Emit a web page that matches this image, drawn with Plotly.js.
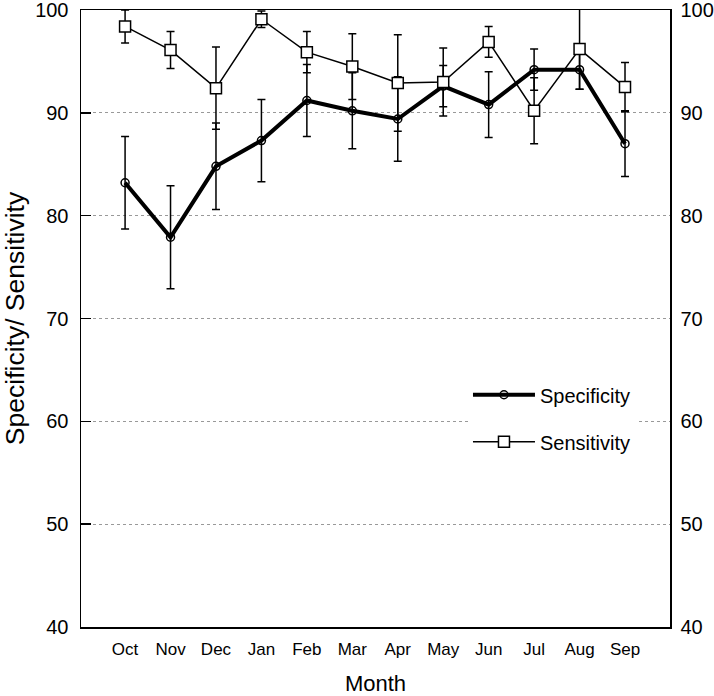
<!DOCTYPE html>
<html>
<head>
<meta charset="utf-8">
<script src="https://cdn.plot.ly/plotly-3.0.1.min.js"></script>
<style>html,body{margin:0;padding:0;background:#fff;}#chart{width:714px;height:696px;}</style>
</head>
<body>
<div id="chart"></div>
<script>
const months = ["Oct","Nov","Dec","Jan","Feb","Mar","Apr","May","Jun","Jul","Aug","Sep"];
const specificity = [83.2, 77.9, 84.8, 87.3, 91.2, 90.2, 89.4, 92.6, 90.8, 94.2, 94.2, 87.0];
const specificityErr = [4.5, 5.0, 4.2, 4.0, 3.5, 3.7, 4.1, 2.0, 3.2, 2.0, 1.9, 3.2];
const sensitivity = [98.4, 96.1, 92.4, 99.1, 95.9, 94.5, 92.9, 93.0, 96.9, 90.2, 96.2, 92.5];
const sensitivityErr = [1.6, 1.8, 4.0, 0.8, 2.0, 3.2, 4.7, 3.3, 1.5, 3.2, 3.9, 2.4];
const yTicks = [40, 50, 60, 70, 80, 90, 100];

const font = "Liberation Sans, Arial, sans-serif";

const traces = [
  {
    x: months, y: specificity, name: "Specificity", type: "scatter", mode: "lines+markers",
    legendgroup: "a",
    line: {color: "#000", width: 4},
    marker: {symbol: "circle-open", size: 8, color: "#000", line: {width: 1.5, color: "#000"}},
    error_y: {type: "data", array: specificityErr, visible: true, color: "#000", thickness: 1.5, width: 4}
  },
  {
    x: months, y: sensitivity, name: "Sensitivity", type: "scatter", mode: "lines+markers",
    legendgroup: "b",
    line: {color: "#000", width: 1.5},
    marker: {symbol: "square", size: 11, color: "#fff", line: {width: 1.5, color: "#000"}},
    error_y: {type: "data", array: sensitivityErr, visible: true, color: "#000", thickness: 1.5, width: 4}
  },
  {
    x: months, y: sensitivity, yaxis: "y2", type: "scatter", mode: "none", showlegend: false, hoverinfo: "skip"
  }
];

const layout = {
  width: 714, height: 696,
  margin: {l: 81, r: 44, t: 10, b: 69},
  paper_bgcolor: "#fff", plot_bgcolor: "#fff",
  font: {family: font, color: "#000"},
  showlegend: true,
  legend: {
    x: 0.657, y: 0.408, xanchor: "left", yanchor: "top",
    bgcolor: "#fff", borderwidth: 0,
    font: {family: font, size: 20, color: "#000"},
    tracegroupgap: 18, itemwidth: 62
  },
  xaxis: {
    type: "category", range: [-0.97, 11.99],
    showline: true, linecolor: "#000", linewidth: 1.5, mirror: true,
    ticks: "", showgrid: false, zeroline: false,
    ticklabelstandoff: 6,
    tickfont: {family: font, size: 17, color: "#000"},
    title: {text: "Month", font: {family: font, size: 22, color: "#000"}, standoff: 22}
  },
  yaxis: {
    range: [40, 100], tickvals: yTicks, ticktext: yTicks.map(String),
    showline: true, linecolor: "#000", linewidth: 1.5,
    ticks: "inside", ticklen: 10, tickwidth: 1.5, tickcolor: "#000",
    showgrid: true, gridcolor: "#999", gridwidth: 1, griddash: "dot",
    zeroline: false,
    ticklabelstandoff: 7, ticklabeloverflow: "allow",
    tickfont: {family: font, size: 20, color: "#000"},
    title: {text: "Specificity/ Sensitivity", font: {family: font, size: 26.5, color: "#000"}, standoff: 16}
  },
  yaxis2: {
    range: [40, 100], tickvals: yTicks, ticktext: yTicks.map(String),
    overlaying: "y", side: "right",
    showline: true, linecolor: "#000", linewidth: 1.5,
    ticks: "", showgrid: false, zeroline: false,
    ticklabelstandoff: 5, ticklabeloverflow: "allow",
    tickfont: {family: font, size: 20, color: "#000"}
  }
};

Plotly.newPlot("chart", traces, layout, {displayModeBar: false, staticPlot: true});
</script>
</body>
</html>
